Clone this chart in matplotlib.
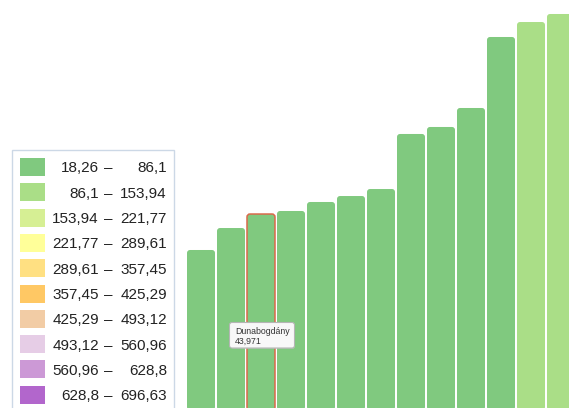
import matplotlib
matplotlib.use("Agg")
import matplotlib.pyplot as plt
from matplotlib.patches import FancyBboxPatch, Rectangle

# ---- data ----
values = [35.90, 40.83, 43.971, 44.65, 46.67, 48.01, 49.58, 61.93, 63.50, 67.76, 83.69, 87.05, 88.85]
highlight_index = 2
highlight_name = "Dunabogdány"
highlight_label = "43,971"
bin_edges = [18.26, 86.1, 153.94, 221.77, 289.61, 357.45, 425.29, 493.12, 560.96, 628.8, 696.63]
bin_labels = ["18,26", "86,1", "153,94", "221,77", "289,61", "357,45",
              "425,29", "493,12", "560,96", "628,8", "696,63"]
bin_colors = ["#80c97f", "#aade87", "#d6ef94", "#ffff99", "#ffe082",
              "#ffc864", "#f2cca5", "#e6cde6", "#cc99d6", "#b266cc"]


def color_for(v):
    for i in range(len(bin_edges) - 1):
        if v <= bin_edges[i + 1]:
            return bin_colors[i]
    return bin_colors[-1]


W, H = 569, 408
fig = plt.figure(figsize=(W / 100, H / 100), dpi=100)
ax = fig.add_axes([0, 0, 1, 1])
ax.axis("off")

pitch = 30.0
s = 4.457  # px per unit
ax.set_xlim((0 - 201) / pitch, (W - 201) / pitch)
ax.set_ylim(2 / s, 410 / s)

xs = list(range(len(values)))
bars = ax.bar(xs, values, width=28 / pitch, color=[color_for(v) for v in values])
rx = 3 / pitch
ry = 3 / s
for i, b in enumerate(bars):
    b.set_visible(False)
    x, y = b.get_x(), b.get_y()
    w, h = b.get_width(), b.get_height()
    p = FancyBboxPatch((x, y), w, h, boxstyle=f"round,pad=0,rounding_size={rx}",
                       mutation_aspect=ry / rx, facecolor=b.get_facecolor(),
                       edgecolor="none", zorder=2)
    ax.add_patch(p)
    if i == highlight_index:
        p2 = FancyBboxPatch((x, y), w, h, boxstyle=f"round,pad=0,rounding_size={rx}",
                            mutation_aspect=ry / rx, facecolor="none",
                            edgecolor="#d9694a", linewidth=1.1, zorder=3)
        ax.add_patch(p2)

# overlay in pixel coordinates
ov = fig.add_axes([0, 0, 1, 1])
ov.set_xlim(0, W)
ov.set_ylim(H, 0)
ov.axis("off")
ov.patch.set_alpha(0)

# legend box
ov.add_patch(Rectangle((12.5, 149.5), 162, 270, facecolor="white",
                       edgecolor="#ccd8e6", linewidth=1.0, zorder=1))
row0 = 167.0
rpitch = 25.3
for i in range(len(bin_colors)):
    cy = row0 + i * rpitch
    ov.add_patch(Rectangle((20, cy - 9), 25, 18, facecolor=bin_colors[i],
                           edgecolor="none", zorder=2))
    ov.text(99, cy, bin_labels[i], ha="right", va="center_baseline",
            fontsize=11, family="Liberation Sans", color="#222222", zorder=3)
    ov.text(108.5, cy, "\u2013", ha="center", va="center_baseline",
            fontsize=11, family="Liberation Sans", color="#222222", zorder=3)
    ov.text(167, cy, bin_labels[i + 1], ha="right", va="center_baseline",
            fontsize=11, family="Liberation Sans", color="#222222", zorder=3)

# tooltip
ov.add_patch(FancyBboxPatch((231, 324), 64, 25, boxstyle="round,pad=0,rounding_size=2.5",
                            facecolor="#c8c8c8", edgecolor="none", alpha=0.5, zorder=4))
ov.add_patch(FancyBboxPatch((229.5, 322.5), 65, 25.5, boxstyle="round,pad=0,rounding_size=2.5",
                            facecolor="#f8f8f8", edgecolor="#b5b5b5", linewidth=0.8, zorder=5))
ov.text(235, 331, highlight_name, ha="left", va="center", fontsize=6.3,
        family="Liberation Sans", color="#333333", zorder=6)
ov.text(235, 341.5, highlight_label, ha="left", va="center", fontsize=6.3,
        family="Liberation Sans", color="#333333", zorder=6)

fig.savefig("out.png", dpi=100)
